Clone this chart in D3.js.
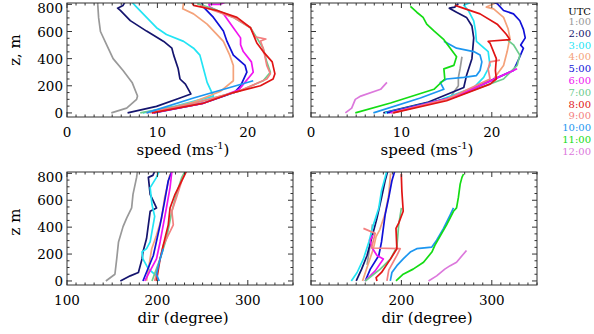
<!DOCTYPE html>
<html>
<head>
<meta charset="utf-8">
<script src="https://cdn.jsdelivr.net/npm/d3@7"></script>
<style>
  body { margin: 0; background: #fff; }
  text { font-family: "DejaVu Serif", serif; }
</style>
</head>
<body>
<div id="chart"></div>
<script>
// hour labels and colours (legend order)
const hours = ['1:00', '2:00', '3:00', '4:00', '5:00', '6:00', '7:00', '8:00', '9:00', '10:00', '11:00', '12:00'];
const hourColors = ['#999999', '#14146e', '#22e4f4', '#f4a27a', '#1010d8', '#f014f0', '#6ccc8c', '#e01414', '#f48080', '#1c96f0', '#14dc14', '#dc78dc'];

// profiles: [hour index, [[value, z], ...]]
const speedLeft = [
  [0, [[4.9,0],[6.6,35],[7.7,100],[7.8,125],[7.2,225],[6.2,313],[5.1,400],[4.4,500],[3.7,600],[3.5,700],[3.4,800],[3.4,815]]],
  [1, [[6.7,0],[9.9,48],[12.5,110],[13.7,140],[13.1,212],[12.5,250],[12.3,325],[11.8,426],[11.6,477],[10.7,527],[8.8,603],[7.0,680],[5.9,755],[5.6,772],[6.2,792],[6.4,815]]],
  [2, [[8.4,0],[12,50],[16.2,124],[15.5,225],[15.1,325],[14.7,426],[14.0,477],[12.9,527],[11.0,578],[9.9,628],[8.8,704],[7.7,780],[7.2,815]]],
  [3, [[9.2,0],[14,80],[17,160],[18.4,237],[18.4,350],[18.0,426],[17.3,527],[15.5,654],[14.0,730],[12.8,767],[12.9,815]]],
  [4, [[9.6,0],[15,70],[18.5,150],[19.2,200],[19.9,300],[19.7,350],[18.4,426],[17.7,527],[17.3,603],[16.2,704],[15.1,780],[14.9,815]]],
  [5, [[9.4,0],[15,70],[19,170],[20.6,300],[20.4,376],[19.5,452],[19.2,502],[19.2,553],[18.4,628],[17.3,730],[15.8,780],[15.7,800],[16.9,800],[17.5,815]]],
  [6, [[8.1,0],[14,70],[19,160],[21.7,237],[22.5,300],[22.1,376],[21.7,477],[21.0,553],[20.3,628],[18.4,704],[16.2,767],[14.4,805]]],
  [8, [[8.8,0],[14,70],[19,160],[22.1,250],[22.5,288],[22.1,350],[21.7,477],[21.4,530],[22.0,545],[20.8,560],[20.3,628],[18.4,704],[14.7,792]]],
  [7, [[9.4,0],[15,70],[18.4,150],[21.4,200],[22.8,250],[23.0,288],[22.7,376],[21.7,452],[21.0,515],[20.3,628],[18.8,704],[16.6,755],[14.0,792],[13.8,815]]],
  [9, [[8.8,0],[14,110],[20.6,237]]]
];

const speedRight = [
  [0, [[15.5,124],[16.3,200],[16.3,260],[16.5,330],[16.7,414]]],
  [1, [[8.0,0],[13,80],[16.9,187],[17.2,275],[17.8,400],[18.0,553],[17.8,641],[17.2,704],[16.1,742],[15.3,772],[15.9,780],[16.3,805]]],
  [2, [[8.2,0],[14,90],[18.0,187],[19.1,262],[19.8,350],[19.6,452],[18.3,528],[18.2,604],[18.0,679],[17.4,755],[16.9,793],[17.8,818]]],
  [3, [[8.6,0],[15,100],[20.2,250],[21.3,350],[21.7,452],[22.0,553],[21.8,620],[21.3,704],[20.2,767],[19.4,780],[20.6,815]]],
  [4, [[8.4,0],[16,120],[22.4,313],[23.1,414],[23.5,477],[23.2,500],[23.7,553],[23.5,616],[23.1,679],[22.4,730],[21.3,755],[20.6,805],[19.8,825]]],
  [6, [[9.0,0],[16,120],[21.3,250],[22.8,350],[23.1,426],[22.4,502],[21.7,540]]],
  [5, [[8.8,0],[16,120],[22.8,325]]],
  [8, [[9.0,0],[15,100],[19.8,250],[19.6,325],[19.8,376],[20.9,389]]],
  [7, [[9.1,0],[15,90],[19.8,212],[20.5,250],[20.4,313],[20.5,400],[19.8,515],[19.6,528],[22.0,540],[21.6,580],[20.6,654],[18.7,730],[16.5,780],[15.9,793]]],
  [9, [[6.9,0],[12.1,110],[14.7,174],[14.3,225],[15.0,250],[16.9,262],[18.3,275],[18.7,313],[18.9,376],[18.7,426],[18.0,452],[16.1,477],[14.7,528]]],
  [10, [[4.9,0],[8.8,73],[13.6,174],[14.8,250],[14.7,325],[15.8,350],[16.1,414],[15.4,477],[14.7,540],[13.6,604],[12.8,654],[12.4,704],[11.7,742],[11.0,785]]],
  [11, [[3.8,0],[4.5,35],[4.9,100],[5.5,124],[7.7,174],[8.4,225]]]
];

const dirLeft = [
  [0, [[143,0],[153,50],[155,164],[157,290],[162,404],[166,467],[171.5,543],[173,644],[177,770],[178,820]]],
  [1, [[159,0],[170,38],[179,63],[183,164],[184,215],[188,315],[192,518],[199,543],[192,644],[190,770],[195,785],[197,815]]],
  [2, [[201,0],[197,50],[190,90],[184,164],[183,215],[188,240],[192,290],[197,480],[194,568],[192,694],[199,770],[202,815]]],
  [3, [[188,0],[193.7,240],[199,340],[204.7,467],[208,619],[214,795]]],
  [4, [[184,0],[195.5,189],[203,417],[208,593],[212,745],[216,815]]],
  [5, [[186,0],[199,164],[203,290],[206.5,417],[210,543],[214,694],[216,815]]],
  [6, [[194,0],[203,164],[210,315],[216,518],[221,644],[227,770],[230,808]]],
  [8, [[197,0],[206.5,265],[217.6,417],[216,518],[221,619],[227,745],[232,815]]],
  [7, [[199,0],[203,164],[206.5,265],[212,417],[214,543],[219.5,644],[227,745],[232,815]]],
  [9, [[202,0],[199,50],[201,110],[203,164],[206.5,240]]]
];

const dirRight = [
  [0, [[162,120],[165,250],[168,420]]],
  [1, [[150,0],[156,88],[162,189],[167,316],[173,467],[178,619],[182,745],[185,820]]],
  [2, [[144.6,0],[151,63],[158,164],[164,290],[169,417],[175,543],[178,670],[182,770],[184,820]]],
  [3, [[157,0],[163,120],[169,240],[172,330],[176,380],[182,500],[186,640],[188,800]]],
  [4, [[160,0],[165.6,88],[175,189],[178,290],[182,492],[186,619],[189.5,745],[193,825]]],
  [5, [[160,0],[171,75],[180,164],[173,189],[167,252],[165.6,303],[168.5,341]]],
  [6, [[160,0],[176.6,88],[188,164],[195,253],[197,417],[200,543]]],
  [8, [[184,0],[186,80],[195,190],[198.7,240],[167,245],[171,354],[158,391]]],
  [7, [[173,0],[172,25],[178,63],[188,164],[195,240],[194,391],[197,430],[202,518],[200.5,670],[200,770],[200,795]]],
  [9, [[187.7,0],[189.5,63],[195,114],[202,164],[209.8,215],[217,240],[233.7,252],[239,303],[246.6,391],[254,492],[257.6,543]]],
  [10, [[194,0],[202,50],[213,88],[224.5,139],[233.7,215],[237,265],[250,417],[257.6,518],[261,543],[263,619],[265,720],[267,770],[268.7,795]]],
  [11, [[230,0],[239,38],[248,88],[254,114],[261,139],[272,227]]]
];

const zTicks = [0, 200, 400, 600, 800];
const speedTicks = [0, 10, 20];
const dirTicks = [100, 200, 300];

const width = 594, height = 334;
const svg = d3.select("#chart").append("svg")
  .attr("width", width)
  .attr("height", height);

function drawPanel(box, xDomain, xTicks, xMinorStep, series, opts) {
  const x = d3.scaleLinear().domain(xDomain).range([box.x0, box.x1]);
  const y = d3.scaleLinear().domain([-30, 810]).range([box.y1, box.y0]);
  const g = svg.append("g");

  const clipId = "clip" + Math.round(box.x0) + "_" + Math.round(box.y0);
  svg.append("clipPath").attr("id", clipId)
    .append("rect")
    .attr("x", box.x0).attr("y", box.y0)
    .attr("width", box.x1 - box.x0).attr("height", box.y1 - box.y0);

  const line = d3.line()
    .x(d => x(d[0]))
    .y(d => y(d[1]));

  const lines = g.append("g").attr("clip-path", `url(#${clipId})`);
  series.forEach(([h, pts]) => {
    lines.append("path")
      .attr("d", line(pts))
      .attr("fill", "none")
      .attr("stroke", hourColors[h])
      .attr("stroke-width", 1.7)
      .attr("stroke-linejoin", "round");
  });

  // frame
  g.append("rect")
    .attr("x", box.x0).attr("y", box.y0)
    .attr("width", box.x1 - box.x0).attr("height", box.y1 - box.y0)
    .attr("fill", "none")
    .attr("stroke", "#333")
    .attr("stroke-width", 1);

  // ticks on all sides, pointing inward
  const xMinor = d3.range(xDomain[0], xDomain[1] + 0.001, xMinorStep);
  const zMinor = d3.range(0, 801, 50);
  const ticks = g.append("g").attr("stroke", "#333").attr("stroke-width", 1);
  xMinor.forEach(v => {
    const len = xTicks.includes(v) ? 5 : 2.5;
    ticks.append("line").attr("x1", x(v)).attr("x2", x(v)).attr("y1", box.y1).attr("y2", box.y1 - len);
    ticks.append("line").attr("x1", x(v)).attr("x2", x(v)).attr("y1", box.y0).attr("y2", box.y0 + len);
  });
  zMinor.forEach(v => {
    const len = zTicks.includes(v) ? 5 : 2.5;
    ticks.append("line").attr("y1", y(v)).attr("y2", y(v)).attr("x1", box.x0).attr("x2", box.x0 + len);
    ticks.append("line").attr("y1", y(v)).attr("y2", y(v)).attr("x1", box.x1).attr("x2", box.x1 - len);
  });

  // x tick labels
  g.selectAll(".xl").data(xTicks).enter().append("text")
    .attr("x", d => x(d))
    .attr("y", box.y1 + 20)
    .attr("text-anchor", "middle")
    .style("font-size", "13.5px")
    .text(d => d);

  if (opts.yLabels) {
    g.selectAll(".yl").data(zTicks).enter().append("text")
      .attr("x", box.x0 - 4)
      .attr("y", d => Math.max(y(d) + 5, box.y0 + 9.5))
      .attr("text-anchor", "end")
      .style("font-size", "13.5px")
      .text(d => d);
  }

  const title = g.append("text")
    .attr("x", (box.x0 + box.x1) / 2 + 3)
    .attr("y", box.y1 + 38)
    .attr("text-anchor", "middle")
    .style("font-size", "15px");
  if (opts.speed) {
    title.append("tspan").text("speed (ms");
    title.append("tspan").attr("dy", -6).style("font-size", "10px").text("-1");
    title.append("tspan").attr("dy", 6).text(")");
  } else {
    title.text("dir (degree)");
  }
}

const L = { x0: 67, x1: 293 }, R = { x0: 311, x1: 537 };
const T = { y0: 3, y1: 117 }, B = { y0: 172, y1: 285 };

drawPanel({ ...L, ...T }, [0, 25], speedTicks, 1, speedLeft, { yLabels: true, speed: true });
drawPanel({ ...R, ...T }, [0, 25], speedTicks, 1, speedRight, { yLabels: false, speed: true });
drawPanel({ ...L, ...B }, [100, 350], dirTicks, 10, dirLeft, { yLabels: true, speed: false });
drawPanel({ ...R, ...B }, [100, 350], dirTicks, 10, dirRight, { yLabels: false, speed: false });

// y axis titles
svg.append("text")
  .attr("transform", "translate(20,50) rotate(-90)")
  .attr("text-anchor", "middle")
  .style("font-size", "15px")
  .text("z, m");
svg.append("text")
  .attr("transform", "translate(20,222) rotate(-90)")
  .attr("text-anchor", "middle")
  .style("font-size", "15px")
  .text("z m");

// legend
const legend = svg.append("g").attr("class", "legend");
legend.append("text")
  .attr("x", 591).attr("y", 15)
  .attr("text-anchor", "end")
  .style("font-size", "10px")
  .text("UTC");
hours.forEach((h, i) => {
  legend.append("text")
    .attr("x", 591)
    .attr("y", 25 + i * 11.8)
    .attr("text-anchor", "end")
    .attr("fill", hourColors[i])
    .style("font-size", "10px")
    .text(h);
});
</script>
</body>
</html>
